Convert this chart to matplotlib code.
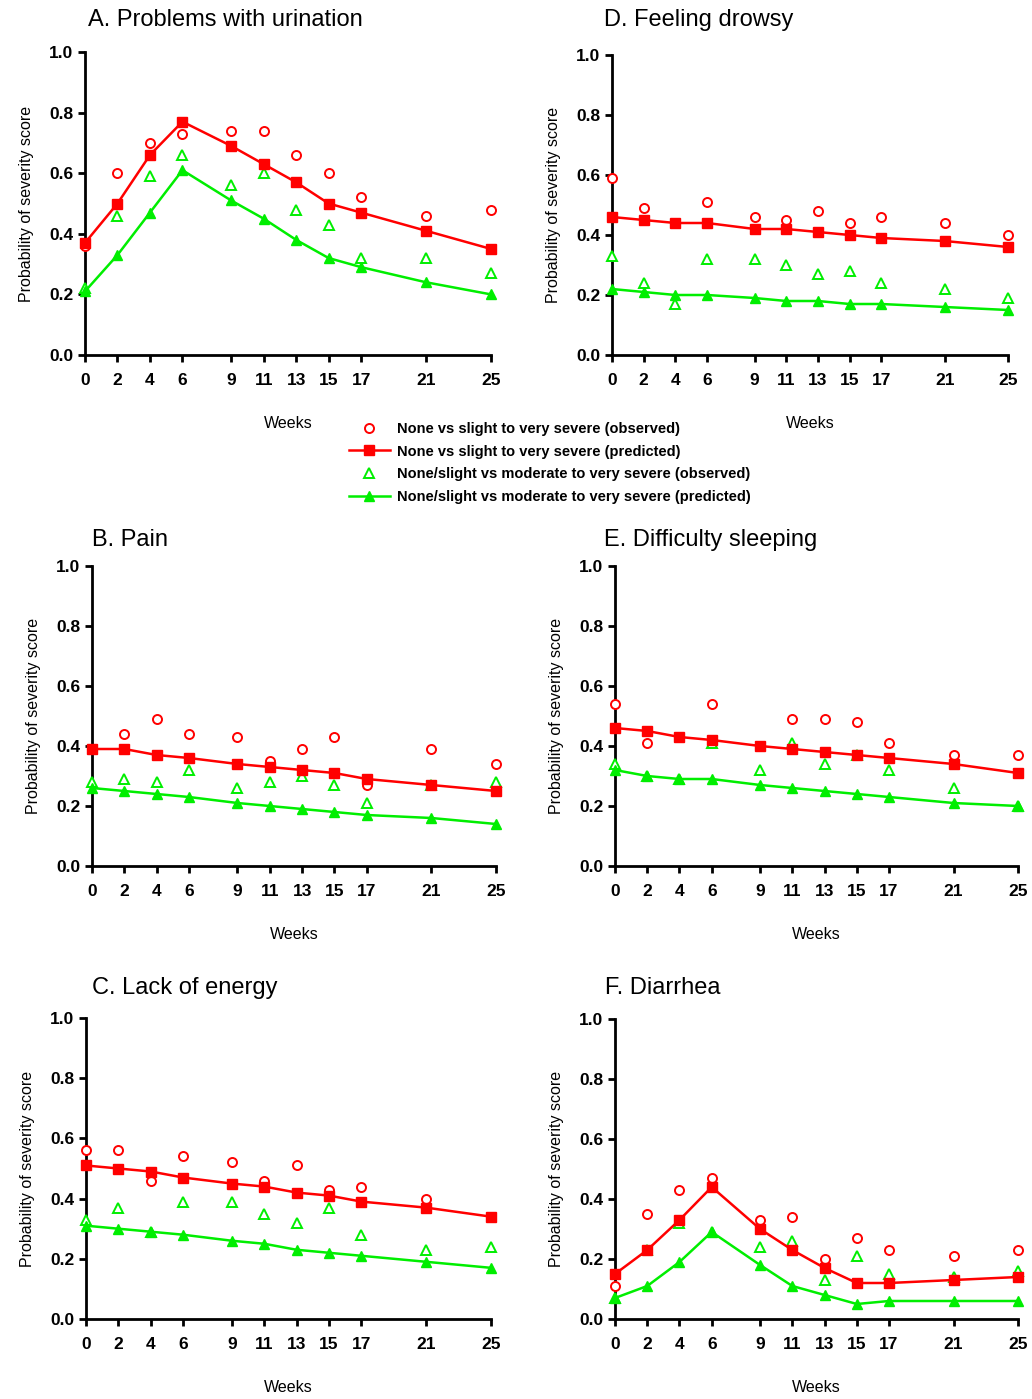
import matplotlib.pyplot as plt
import numpy as np

plt.rcParams['font.family'] = ['Liberation Sans', 'DejaVu Sans']
plt.rcParams['font.weight'] = 'bold'

weeks = [0, 2, 4, 6, 9, 11, 13, 15, 17, 21, 25]
titles = {"A": "A. Problems with urination", "B": "B. Pain", "C": "C. Lack of energy",
          "D": "D. Feeling drowsy", "E": "E. Difficulty sleeping", "F": "F. Diarrhea"}

# red = none vs slight to very severe, green = none/slight vs moderate to very severe
red_obs = {
    "A": [0.36, 0.60, 0.70, 0.73, 0.74, 0.74, 0.66, 0.60, 0.52, 0.46, 0.48],
    "B": [0.39, 0.44, 0.49, 0.44, 0.43, 0.35, 0.39, 0.43, 0.27, 0.39, 0.34],
    "C": [0.56, 0.56, 0.46, 0.54, 0.52, 0.46, 0.51, 0.43, 0.44, 0.40, 0.34],
    "D": [0.59, 0.49, 0.44, 0.51, 0.46, 0.45, 0.48, 0.44, 0.46, 0.44, 0.40],
    "E": [0.54, 0.41, 0.43, 0.54, 0.40, 0.49, 0.49, 0.48, 0.41, 0.37, 0.37],
    "F": [0.11, 0.35, 0.43, 0.47, 0.33, 0.34, 0.20, 0.27, 0.23, 0.21, 0.23],
}
red_pred = {
    "A": [0.37, 0.50, 0.66, 0.77, 0.69, 0.63, 0.57, 0.50, 0.47, 0.41, 0.35],
    "B": [0.39, 0.39, 0.37, 0.36, 0.34, 0.33, 0.32, 0.31, 0.29, 0.27, 0.25],
    "C": [0.51, 0.50, 0.49, 0.47, 0.45, 0.44, 0.42, 0.41, 0.39, 0.37, 0.34],
    "D": [0.46, 0.45, 0.44, 0.44, 0.42, 0.42, 0.41, 0.40, 0.39, 0.38, 0.36],
    "E": [0.46, 0.45, 0.43, 0.42, 0.40, 0.39, 0.38, 0.37, 0.36, 0.34, 0.31],
    "F": [0.15, 0.23, 0.33, 0.44, 0.30, 0.23, 0.17, 0.12, 0.12, 0.13, 0.14],
}
green_obs = {
    "A": [0.22, 0.46, 0.59, 0.66, 0.56, 0.60, 0.48, 0.43, 0.32, 0.32, 0.27],
    "B": [0.28, 0.29, 0.28, 0.32, 0.26, 0.28, 0.30, 0.27, 0.21, 0.27, 0.28],
    "C": [0.33, 0.37, 0.29, 0.39, 0.39, 0.35, 0.32, 0.37, 0.28, 0.23, 0.24],
    "D": [0.33, 0.24, 0.17, 0.32, 0.32, 0.30, 0.27, 0.28, 0.24, 0.22, 0.19],
    "E": [0.34, 0.30, 0.29, 0.41, 0.32, 0.41, 0.34, 0.37, 0.32, 0.26, 0.20],
    "F": [0.07, 0.23, 0.32, 0.29, 0.24, 0.26, 0.13, 0.21, 0.15, 0.14, 0.16],
}
green_pred = {
    "A": [0.21, 0.33, 0.47, 0.61, 0.51, 0.45, 0.38, 0.32, 0.29, 0.24, 0.20],
    "B": [0.26, 0.25, 0.24, 0.23, 0.21, 0.20, 0.19, 0.18, 0.17, 0.16, 0.14],
    "C": [0.31, 0.30, 0.29, 0.28, 0.26, 0.25, 0.23, 0.22, 0.21, 0.19, 0.17],
    "D": [0.22, 0.21, 0.20, 0.20, 0.19, 0.18, 0.18, 0.17, 0.17, 0.16, 0.15],
    "E": [0.32, 0.30, 0.29, 0.29, 0.27, 0.26, 0.25, 0.24, 0.23, 0.21, 0.20],
    "F": [0.07, 0.11, 0.19, 0.29, 0.18, 0.11, 0.08, 0.05, 0.06, 0.06, 0.06],
}

RED = '#ff0000'
GREEN = '#00ee00'
W, H = 1032, 1399

# axes boxes in pixels: left, top, right, bottom
boxes = {
    "A": (85, 52, 491, 355),
    "D": (612, 55, 1008, 355),
    "B": (92, 566, 496, 866),
    "E": (615, 566, 1018, 866),
    "C": (86, 1018, 491, 1319),
    "F": (615, 1019, 1018, 1319),
}
# title anchor (left x, centre y) in pixels
title_pos = {"A": (88, 20), "D": (604, 20), "B": (92, 540),
             "E": (604, 540), "C": (92, 988), "F": (605, 988)}

fig = plt.figure(figsize=(W / 100, H / 100), dpi=100)

handles = None
for key in "ABCDEF":
    l, t, r, b = boxes[key]
    ax = fig.add_axes([l / W, 1 - b / H, (r - l) / W, (b - t) / H])
    h1, = ax.plot(weeks, red_obs[key], 'o', mfc='white', mec=RED, mew=1.4, ms=6.5,
                  clip_on=False, zorder=3)
    h2, = ax.plot(weeks, red_pred[key], '-s', color=RED, lw=1.8, ms=6.5,
                  clip_on=False, zorder=4)
    h3, = ax.plot(weeks, green_obs[key], '^', mfc='white', mec=GREEN, mew=1.4, ms=6.5,
                  clip_on=False, zorder=3)
    h4, = ax.plot(weeks, green_pred[key], '-^', color=GREEN, lw=1.8, ms=7,
                  clip_on=False, zorder=4)
    handles = [h1, h2, h3, h4]

    ax.set_xlim(0, 25)
    ax.set_ylim(0, 1.0)
    ax.set_xticks(weeks)
    yt = np.arange(0, 1.01, 0.2)
    ax.set_yticks(yt)
    ax.set_yticklabels([f"{v:.1f}" for v in yt])
    ax.tick_params(labelsize=12.5, width=2, length=5, direction='out')
    ax.tick_params(axis='x', pad=8)
    for s in ['top', 'right']:
        ax.spines[s].set_visible(False)
    for s in ['left', 'bottom']:
        ax.spines[s].set_linewidth(2)
    ax.set_xlabel("Weeks", fontsize=11.5, labelpad=20)
    ax.set_ylabel("Probability of severity score", fontsize=11.5, labelpad=11)
    tx, ty = title_pos[key]
    fig.text(tx / W, 1 - ty / H, titles[key], fontsize=17, fontweight='normal',
             ha='left', va='center')

labels = ["None vs slight to very severe (observed)",
          "None vs slight to very severe (predicted)",
          "None/slight vs moderate to very severe (observed)",
          "None/slight vs moderate to very severe (predicted)"]
fig.legend(handles, labels, loc='upper left', bbox_to_anchor=(343 / W, 1 - 416 / H),
           frameon=False, fontsize=10.5, handlelength=2.8, labelspacing=0.6,
           handletextpad=0.5, borderaxespad=0)

plt.savefig("out.png", dpi=100)
